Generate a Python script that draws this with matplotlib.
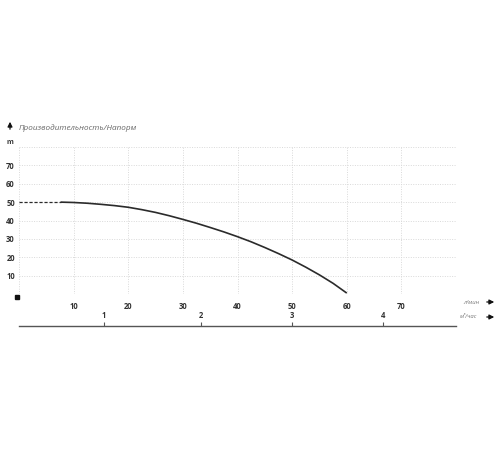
import matplotlib
matplotlib.use("Agg")
import matplotlib.pyplot as plt
from matplotlib.lines import Line2D

# Data
flow_lmin = [7.6, 10, 12.5, 15, 17.5, 20, 22.5, 25, 27.5, 30, 32.5, 35, 37.5, 40,
             42.5, 45, 47.5, 50, 52.5, 55, 57.5, 60]
head_m = [50.0, 49.8, 49.4, 48.8, 48.1, 47.2, 45.9, 44.4, 42.6, 40.6, 38.5, 36.2, 33.8, 31.2,
          28.4, 25.3, 22.0, 18.5, 14.6, 10.4, 5.8, 0.5]
dash_flow = [0, 7.6]
dash_head = [50.0, 50.0]
x_ticks = [10, 20, 30, 40, 50, 60, 70]
y_ticks = [10, 20, 30, 40, 50, 60, 70]
m3h_labels = ["1", "2", "3", "4"]
m3h_pos = [15.6, 33.3, 50.0, 66.6]  # in l/min units

plt.rcParams['font.family'] = ['Open Sans', 'DejaVu Sans']

W, H = 500, 450
fig = plt.figure(figsize=(5, 4.5), dpi=100)
fig.patch.set_facecolor('white')

def fx(px):
    return px / W

def fy(py):
    return 1 - py / H

left, right, top, bottom = 19, 456, 147, 294
ax = fig.add_axes([fx(left), fy(bottom), fx(right - left), (bottom - top) / H])
ax.set_xlim(0, 80)
ax.set_ylim(0, 80)
for s in ax.spines.values():
    s.set_visible(False)
ax.set_xticks(range(0, 81, 10))
ax.set_yticks(range(0, 81, 10))
ax.grid(True, color='#d9d9d9', linestyle=(0, (1, 1.5)), linewidth=0.7)
ax.tick_params(length=0, labelsize=5.5, colors='#333333', pad=6)
ax.set_xticklabels([str(v) if v in x_ticks else '' for v in range(0, 81, 10)], fontweight='bold')
ax.set_yticklabels([str(v) if v in y_ticks else '' for v in range(0, 81, 10)], fontweight='bold')
ax.tick_params(axis='y', pad=3)

ax.plot(flow_lmin, head_m, color='#2b2b2b', linewidth=1.2, solid_capstyle='butt',
        solid_joinstyle='round')
ax.plot(dash_flow, dash_head, color='#2b2b2b', linewidth=0.9, linestyle=(0, (2.5, 1.5)))

# origin square
fig.add_artist(Line2D([fx(16.5)], [fy(297)], marker='s', markersize=3.2,
                      color='#111111', linestyle='None'))

# second axis (m3/h)
ax2 = fig.add_axes([fx(left), fy(326), fx(right - left), 0.0001])
ax2.set_xlim(0, 80)
ax2.set_yticks([])
for k in ('left', 'right', 'bottom'):
    ax2.spines[k].set_visible(False)
ax2.spines['top'].set_color('#555555')
ax2.spines['top'].set_linewidth(1.0)
ax2.patch.set_visible(False)
ax2.xaxis.set_ticks_position('top')
ax2.xaxis.set_label_position('top')
ax2.set_xticks(m3h_pos)
ax2.set_xticklabels(m3h_labels, fontweight='bold')
ax2.tick_params(axis='x', direction='out', length=3, width=0.8, color='#555555',
                labelsize=5.5, labelcolor='#333333', pad=1.5)

# title and unit labels
fig.text(fx(19), fy(128), 'Производительность/Напорм', fontsize=5.9, style='italic',
         color='#666666', va='center', ha='left')
fig.text(fx(10), fy(142), 'm', fontsize=5, fontweight='bold', color='#333333',
         va='center', ha='center')
fig.add_artist(matplotlib.patches.FancyArrowPatch(
    (fx(10), fy(132)), (fx(10), fy(119)), arrowstyle='-|>', mutation_scale=7,
    color='#111111', linewidth=0.9, transform=fig.transFigure))

fig.text(fx(463), fy(302), 'л/мин', fontsize=4.2, style='italic', color='#777777',
         va='center', ha='left')
fig.text(fx(460), fy(317), 'м³/час', fontsize=4.2, style='italic', color='#777777',
         va='center', ha='left')
for yy in (302, 317):
    fig.add_artist(matplotlib.patches.FancyArrowPatch(
        (fx(484), fy(yy)), (fx(497), fy(yy)), arrowstyle='-|>', mutation_scale=7,
        color='#111111', linewidth=0.9, transform=fig.transFigure))

fig.savefig('out.png', dpi=100)
